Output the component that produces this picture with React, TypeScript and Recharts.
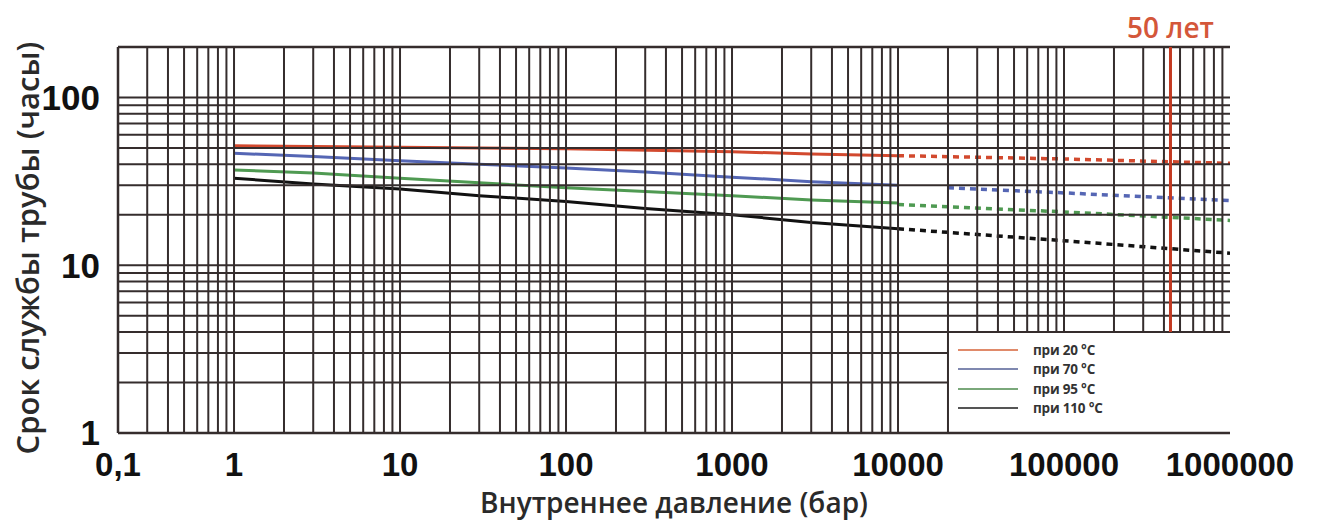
import React from 'react';
import { LineChart, Line, XAxis, YAxis, ReferenceLine, Legend } from 'recharts';

// ---- axes / ticks ----
const xTicks = [0.2, 1, 10, 100, 1000, 10000, 100000, 1000000];
const xTickLabels = ['0,1', '1', '10', '100', '1000', '10000', '100000', '1000000'];
const yTicks = [1, 10, 100];
const yTickLabels = ['1', '10', '100'];
const xDomain: [number, number] = [0.2, 1000000];
const yDomain: [number, number] = [1, 200];
const gridMultiples = [1, 2, 3, 4, 5, 6, 7, 8, 9];
const xDecades = [0.1, 1, 10, 100, 1000, 10000, 100000];
const yDecades = [1, 10];
const legendCornerX = 20000;
const legendCornerY = 4;
const fiftyYearsHours = 438000;

const xTitle = 'Внутреннее давление (бар)';
const yTitle = 'Срок службы трубы (часы)';
const fiftyLabel = '50 лет';

// ---- series (x, y) ----
const red20Solid = [
  { x: 1, y: 51.5 }, { x: 3, y: 51 }, { x: 10, y: 50.5 }, { x: 100, y: 49.5 },
  { x: 1000, y: 47.5 }, { x: 3000, y: 46 }, { x: 10000, y: 45 },
];
const red20Dashed = [{ x: 10000, y: 45 }, { x: 100000, y: 43 }, { x: 1000000, y: 40.5 }];

const blue70Solid = [
  { x: 1, y: 46.5 }, { x: 3, y: 44.5 }, { x: 10, y: 42 }, { x: 30, y: 40 }, { x: 100, y: 38 },
  { x: 300, y: 36 }, { x: 1000, y: 33.5 }, { x: 3000, y: 31.5 }, { x: 10000, y: 30 },
];
const blue70Dashed = [{ x: 20000, y: 29 }, { x: 100000, y: 27 }, { x: 1000000, y: 24.3 }];

const green95Solid = [
  { x: 1, y: 37 }, { x: 3, y: 35.5 }, { x: 10, y: 33 }, { x: 30, y: 31 }, { x: 100, y: 29 },
  { x: 300, y: 27.5 }, { x: 1000, y: 26 }, { x: 3000, y: 24.5 }, { x: 10000, y: 23.5 },
];
const green95Dashed = [{ x: 10000, y: 23 }, { x: 100000, y: 20.8 }, { x: 1000000, y: 18.5 }];

const black110Solid = [
  { x: 1, y: 33 }, { x: 3, y: 30.5 }, { x: 10, y: 28.5 }, { x: 30, y: 26 }, { x: 100, y: 24 },
  { x: 300, y: 21.8 }, { x: 1000, y: 20 }, { x: 3000, y: 18 }, { x: 10000, y: 16.5 },
];
const black110Dashed = [{ x: 10000, y: 16.5 }, { x: 100000, y: 14 }, { x: 1000000, y: 11.8 }];

const legendLabels = ['при 20 °C', 'при 70 °C', 'при 95 °C', 'при 110 °C'];
const legendColors = ['#e08a6a', '#7f88b0', '#7aa87a', '#555555'];

const series = [
  { solid: red20Solid, dashed: red20Dashed, color: '#d2492e' },
  { solid: blue70Solid, dashed: blue70Dashed, color: '#5566b4' },
  { solid: green95Solid, dashed: green95Dashed, color: '#4f9a52' },
  { solid: black110Solid, dashed: black110Dashed, color: '#111111' },
];

const gridColor = '#352d2d';

const xGridValues = xDecades
  .flatMap((d) => gridMultiples.map((m) => m * d))
  .filter((v) => v > xDomain[0] && v <= xDomain[1]);
const yGridValues = [...yDecades.flatMap((d) => gridMultiples.map((m) => m * d)), 100]
  .filter((v) => v > yDomain[0]);

const LegendBox = () => (
  <div style={{ fontFamily: 'Open Sans', fontWeight: 700, fontSize: 13.5, color: '#333' }}>
    {legendLabels.map((lab, i) => (
      <div key={lab} style={{ display: 'flex', alignItems: 'center', height: 19.5 }}>
        <div style={{ width: 60, height: 2, background: legendColors[i], marginRight: 15 }} />
        <span style={{ letterSpacing: -0.2 }}>{lab}</span>
      </div>
    ))}
  </div>
);

export default function App() {
  return (
    <div style={{ position: 'absolute', left: 0, top: 0, width: 1324, height: 521, background: '#fff' }}>
      <LineChart width={1324} height={521} margin={{ top: 47, right: 94, left: 0, bottom: 0 }}>
        <XAxis
          type="number"
          dataKey="x"
          scale="log"
          domain={xDomain}
          allowDataOverflow
          ticks={xTicks}
          interval={0}
          height={88}
          tickLine={false}
          axisLine={false}
          tickSize={0}
          tickMargin={20}
          tick={{ fontSize: 33, fontWeight: 700, fill: '#111', fontFamily: 'Liberation Sans' }}
          tickFormatter={(v: number) => xTickLabels[xTicks.indexOf(v)] ?? ''}
          label={{ value: xTitle, position: 'insideBottom', offset: 8, fontSize: 28, fontWeight: 600, fill: '#2a2a2a', fontFamily: 'Open Sans' }}
        />
        <YAxis
          type="number"
          dataKey="y"
          scale="log"
          domain={yDomain}
          allowDataOverflow
          ticks={yTicks}
          interval={0}
          width={118}
          tickLine={false}
          axisLine={false}
          tickSize={0}
          tickMargin={18}
          tick={{ fontSize: 35, fontWeight: 700, fill: '#111', fontFamily: 'Liberation Sans' }}
          tickFormatter={(v: number) => yTickLabels[yTicks.indexOf(v)] ?? ''}
          label={{
            content: () => (
              <text
                x={27}
                y={248}
                transform="rotate(-90 27 248)"
                textAnchor="middle"
                dominantBaseline="central"
                fontSize={31}
                fontWeight={600}
                fill="#2a2a2a"
                fontFamily="Open Sans"
              >
                {yTitle}
              </text>
            ),
          }}
        />

        {series.map((s, i) => (
          <Line key={'s' + i} data={s.solid} dataKey="y" type="linear" stroke={s.color} strokeWidth={3} dot={false} activeDot={false} isAnimationActive={false} />
        ))}
        {series.map((s, i) => (
          <Line key={'d' + i} data={s.dashed} dataKey="y" type="linear" stroke={s.color} strokeWidth={3.5} strokeDasharray="6 5" dot={false} activeDot={false} isAnimationActive={false} />
        ))}

        {/* horizontal grid */}
        {yGridValues.map((v) =>
          v < legendCornerY ? (
            <ReferenceLine key={'h' + v} segment={[{ x: xDomain[0], y: v }, { x: legendCornerX, y: v }]} stroke={gridColor} strokeWidth={2} />
          ) : (
            <ReferenceLine key={'h' + v} y={v} stroke={gridColor} strokeWidth={2} />
          )
        )}
        {/* vertical grid */}
        {xGridValues.map((v) =>
          v > legendCornerX && v < xDomain[1] ? (
            <ReferenceLine key={'v' + v} segment={[{ x: v, y: legendCornerY }, { x: v, y: yDomain[1] }]} stroke={gridColor} strokeWidth={2} />
          ) : (
            <ReferenceLine key={'v' + v} x={v} stroke={gridColor} strokeWidth={2} />
          )
        )}
        {/* frame */}
        <ReferenceLine x={xDomain[0]} stroke={gridColor} strokeWidth={2.5} />
        <ReferenceLine y={yDomain[1]} stroke={gridColor} strokeWidth={2.5} />
        <ReferenceLine y={yDomain[0]} stroke={gridColor} strokeWidth={2.5} />

        {/* 50 years */}
        <ReferenceLine
          segment={[{ x: fiftyYearsHours, y: legendCornerY }, { x: fiftyYearsHours, y: yDomain[1] }]}
          stroke="#c43a22"
          strokeWidth={3}
          label={{ value: fiftyLabel, position: 'top', offset: 9, fontSize: 28, fontWeight: 600, fill: '#d4573a', fontFamily: 'Open Sans' }}
        />

        <Legend
          layout="horizontal"
          verticalAlign="middle"
          align="center"
          content={() => <LegendBox />}
          wrapperStyle={{ position: 'absolute', left: 958, top: 340, width: 260, height: 80 }}
        />
      </LineChart>
    </div>
  );
}
